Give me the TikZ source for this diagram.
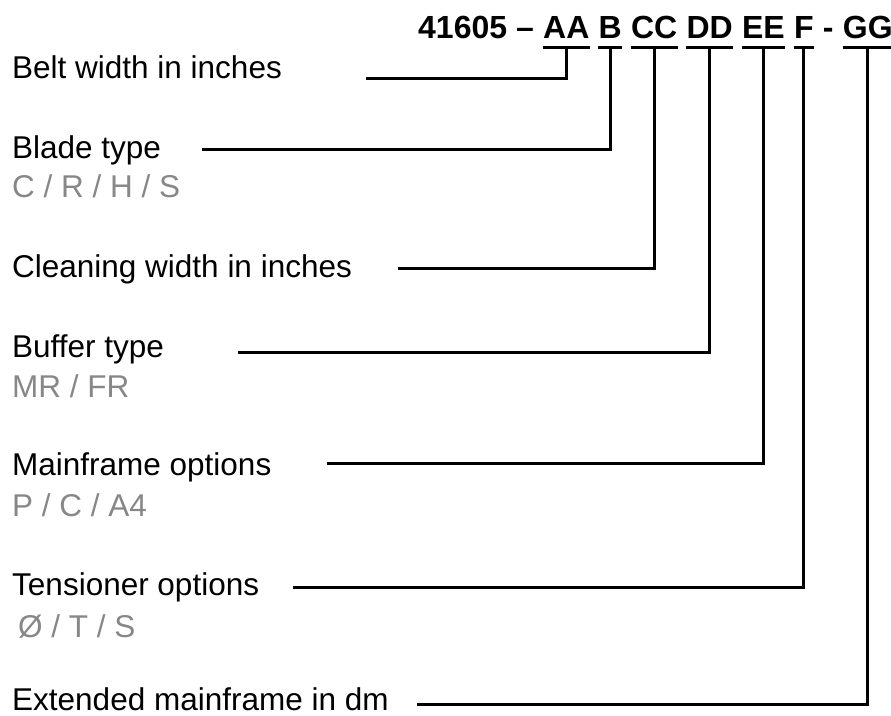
\documentclass[tikz,border=0pt]{standalone}
\usepackage{fontspec}
\setmainfont{Liberation Sans}
\usetikzlibrary{positioning}
\definecolor{optgray}{HTML}{878787}

\begin{document}
\begin{tikzpicture}[
  x = 1pt, y = -1pt,
  codepart/.style = {inner sep = 0pt, font = \fontsize{32}{38}\selectfont\bfseries},
  lbl/.style = {inner sep = 0pt, anchor = base west, font = \fontsize{31.5}{38}\selectfont},
  opts/.style = {lbl, text = optgray},
  uline/.style = {line width = 3pt},
  wire/.style = {line width = 3pt},
  ]
  \useasboundingbox (0,0) rectangle (891,715);

  % part number
  \node [codepart, anchor = base west] (pre) at (418,38) {41605 –};
  \node [codepart, base right = 8.9pt of pre] (aa)   {AA};
  \node [codepart, base right = 8.9pt of aa]  (b)    {B};
  \node [codepart, base right = 8.9pt of b]   (cc)   {CC};
  \node [codepart, base right = 8.9pt of cc]  (dd)   {DD};
  \node [codepart, base right = 8.9pt of dd]  (ee)   {EE};
  \node [codepart, base right = 8.9pt of ee]  (f)    {F};
  \node [codepart, base right = 8.9pt of f]   (hyph) {-};
  \node [codepart, base right = 8.9pt of hyph] (gg)  {GG};

  \foreach \c in {aa, b, cc, dd, ee, f, gg} {
    \draw [uline] ([yshift=-9pt]\c.base west) -- ([yshift=-9pt]\c.base east);
    \coordinate (\c-u) at ([yshift=-9pt]\c.base);
  }

  % descriptions
  \node [lbl]  (belt)      at (12,78)  {Belt width in inches};
  \node [lbl]  (blade)     at (12,158) {Blade type};
  \node [opts] (bladeopt)  at (12,197) {C / R / H / S};
  \node [lbl]  (clean)     at (12,277) {Cleaning width in inches};
  \node [lbl]  (buffer)    at (12,357) {Buffer type};
  \node [opts] (bufferopt) at (12,397) {MR / FR};
  \node [lbl]  (frame)     at (12,475) {Mainframe options};
  \node [opts] (frameopt)  at (12,516) {P / C / A4};
  \node [lbl]  (tension)   at (12,595) {Tensioner options};
  \node [opts] (tensionopt) at (18,637) {Ø / T / S};
  \node [lbl]  (ext)       at (12,710) {Extended mainframe in dm};

  % line ends
  \coordinate (belt-w)    at (366,78);
  \coordinate (blade-w)   at (202,149);
  \coordinate (clean-w)   at (398,268);
  \coordinate (buffer-w)  at (238,352);
  \coordinate (frame-w)   at (327,463);
  \coordinate (tension-w) at (293,587);
  \coordinate (ext-w)     at (417,704);

  \foreach \c/\s in {aa/belt-w, b/blade-w, cc/clean-w, dd/buffer-w,
                     ee/frame-w, f/tension-w, gg/ext-w}
    \draw [wire] (\c-u) |- (\s);
\end{tikzpicture}
\end{document}
